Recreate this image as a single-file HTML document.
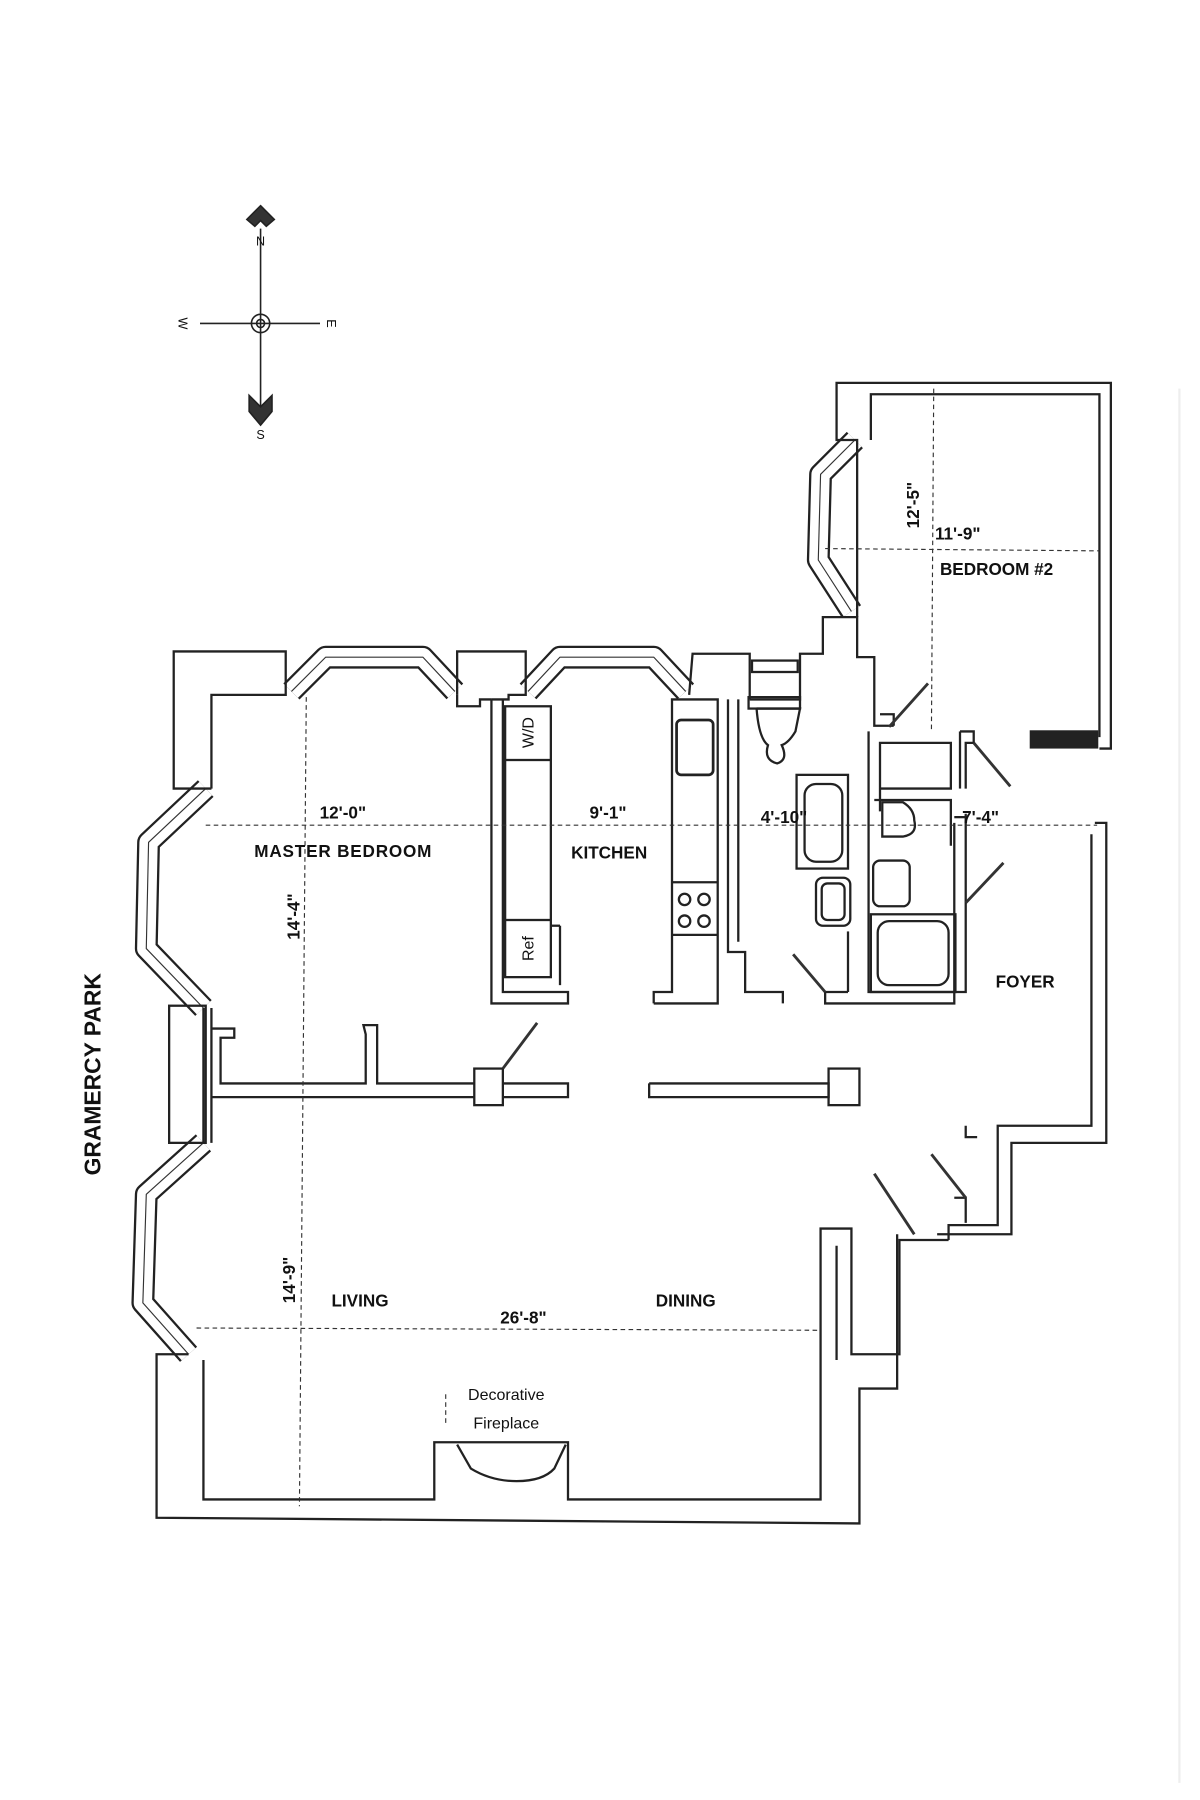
<!DOCTYPE html>
<html><head><meta charset="utf-8"><style>
html,body{margin:0;padding:0;background:#fff;}
svg{display:block;}
text{font-family:"Liberation Sans",sans-serif;fill:#111;}
.b{font-weight:bold;font-size:15px;}
</style></head><body>
<svg width="1200" height="1800" viewBox="0 0 1050 1575" preserveAspectRatio="none" xmlns="http://www.w3.org/2000/svg">
<rect width="1050" height="1575" fill="#fff"/>
<g stroke="#222" stroke-width="1.4" fill="none" stroke-linejoin="miter">
<!-- compass -->
<line x1="228" y1="200" x2="228" y2="365"/>
<line x1="175" y1="283" x2="280" y2="283"/>
<circle cx="228" cy="283" r="8"/><circle cx="228" cy="283" r="3.5"/>
<polygon points="228,180 240,192 233,198 228,193 223,198 216,192" fill="#333"/>
<polygon points="228,372 218,360 218,346 228,356 238,346 238,360" fill="#333"/>
</g>
<text x="228" y="215" font-size="11" text-anchor="middle">N</text>
<text x="228" y="384" font-size="11" text-anchor="middle">S</text>
<text x="160" y="287" font-size="11" text-anchor="middle" transform="rotate(90 160 283)">W</text>
<text x="290" y="287" font-size="11" text-anchor="middle" transform="rotate(90 290 283)">E</text>

<!-- windows -->
<g fill="none" stroke-linejoin="round">
<g stroke="#222" stroke-width="20">
<polyline points="180,690 130,737 128,830 178,882"/>
<polyline points="255,605 285,575 370,575 398,605"/>
<polyline points="462,605 490,575 572,575 600,605"/>
<polyline points="178,1000 128,1045 125,1140 165,1185"/>
<polyline points="748,385 718,415 716,490 745,535"/>
</g>
<g stroke="#fff" stroke-width="16">
<polyline points="180,690 130,737 128,830 178,882"/>
<polyline points="255,605 285,575 370,575 398,605"/>
<polyline points="462,605 490,575 572,575 600,605"/>
<polyline points="178,1000 128,1045 125,1140 165,1185"/>
<polyline points="748,385 718,415 716,490 745,535"/>
</g>
<g stroke="#333" stroke-width="1">
<polyline points="180,690 130,737 128,830 178,882"/>
<polyline points="255,605 285,575 370,575 398,605"/>
<polyline points="462,605 490,575 572,575 600,605"/>
<polyline points="178,1000 128,1045 125,1140 165,1185"/>
<polyline points="748,385 718,415 716,490 745,535"/>
</g>
</g>

<g stroke="#222" stroke-width="2" fill="none" stroke-linejoin="miter">
<!-- master bedroom top-left block -->
<polyline points="185,690 152,690 152,570 250,570 250,608 185,608 185,690"/>
<!-- master/kitchen pier -->
<polyline points="400,608 400,570 460,570 460,608 445,608 445,612 430,612"/>
<polyline points="400,608 400,618 420,618 420,612 430,612"/>
<!-- kitchen to bath pier -->
<polyline points="603,608 606,572 656,572 656,612"/>
<!-- left pier between bays -->
<rect x="148" y="880" width="32" height="120"/>
<!-- bottom-left living -->
<polyline points="165,1185 137,1185 137,1328 752,1333 752,1215 785,1215 785,1080"/>
<polyline points="178,1190 178,1312 380,1312 380,1262 497,1262 497,1312 718,1312 718,1190"/>
<path d="M400,1264 L412,1285 Q430,1296 452,1296 Q475,1296 485,1285 L495,1264"/>
<!-- right dining walls -->
<polyline points="718,1190 718,1075 745,1075 745,1185 787,1185 787,1085 830,1085"/>
<polyline points="732,1190 732,1090"/>
<polyline points="820,1080 885,1080 885,1000 968,1000 968,720 958,720"/>
<polyline points="830,1085 830,1072 873,1072 873,985 955,985 955,730"/>
<polyline points="835,1048 845,1048 845,1070"/>
<polyline points="845,985 845,995 855,995"/>
<!-- master/living divider -->
<polyline points="185,900 205,900 205,908 193,908 193,948 320,948 320,905 318,897 330,897 330,948 415,948"/>
<polyline points="185,960 415,960"/>
<rect x="415" y="935" width="25" height="32"/>
<polyline points="440,948 497,948 497,960 440,960"/>
<polyline points="568,948 725,948 725,960 568,960 568,948"/>
<rect x="725" y="935" width="27" height="32"/>
<line x1="178" y1="882" x2="178" y2="1000"/>
<line x1="185" y1="882" x2="185" y2="1000"/>
<!-- kitchen left wall -->
<polyline points="430,612 430,878 497,878 497,868 440,868 440,612"/>
<rect x="442" y="618" width="40" height="47"/>
<line x1="442" y1="665" x2="442" y2="805"/>
<line x1="482" y1="665" x2="482" y2="805"/>
<rect x="442" y="805" width="40" height="50"/>
<line x1="482" y1="810" x2="490" y2="810"/><line x1="490" y1="810" x2="490" y2="862"/>
<!-- kitchen right counter -->
<polyline points="572,878 628,878 628,612 588,612 588,868 572,868 572,878"/>
<rect x="592" y="630" width="32" height="48" rx="4" stroke-width="2.4"/>
<line x1="588" y1="772" x2="628" y2="772"/><line x1="588" y1="818" x2="628" y2="818"/>
<circle cx="599" cy="787" r="5"/><circle cx="616" cy="787" r="5"/>
<circle cx="599" cy="806" r="5"/><circle cx="616" cy="806" r="5"/>
<!-- hall wall -->
<polyline points="637,612 637,833 652,833 652,868 685,868 685,878"/>
<polyline points="646,612 646,824"/>
<!-- bath 1 -->
<polyline points="656,612 700,612 700,572 720,572 720,540 750,540 750,575 765,575 765,635 782,635"/>
<rect x="658" y="578" width="40" height="10"/>
<rect x="655" y="610" width="45" height="10"/>
<path d="M662,620 L700,620 L696,640 Q690,650 684,652 Q690,665 680,668 Q668,665 672,652 Q664,646 662,620"/>
<rect x="697" y="678" width="45" height="82"/>
<rect x="704" y="686" width="33" height="68" rx="10"/>
<rect x="714" y="768" width="30" height="42" rx="6"/>
<rect x="719" y="773" width="20" height="32" rx="5"/>
<line x1="742" y1="815" x2="742" y2="868"/>
<line x1="722" y1="868" x2="742" y2="868"/>
<polyline points="722,868 722,878 835,878 835,720"/>
<polyline points="760,640 760,868 845,868 845,712"/>
<!-- bath 2 -->
<polyline points="770,710 770,650 832,650 832,690 770,690"/>
<polyline points="765,700 832,700 832,740"/>
<path d="M772,702 L790,702 Q800,708 800,718 Q803,730 790,732 L772,732 Z"/>
<rect x="764" y="753" width="32" height="40" rx="6"/>
<rect x="762" y="800" width="74" height="68"/>
<rect x="768" y="806" width="62" height="56" rx="10"/>
<!-- bedroom 2 -->
<polyline points="750,540 750,385 732,385 732,335 972,335 972,655 962,655"/>
<polyline points="762,385 762,345 962,345 962,645"/>
<rect x="902" y="640" width="58" height="14" fill="#222"/>
<polyline points="782,635 782,625 770,625"/>
<polyline points="835,715 845,715"/>
<polyline points="840,640 852,640 852,650 845,650 845,690"/>
<polyline points="840,640 840,690"/>
</g>
<!-- doors -->
<g stroke="#333" stroke-width="2.5">
<line x1="440" y1="935" x2="470" y2="895"/>
<line x1="778" y1="636" x2="812" y2="598"/>
<line x1="852" y1="650" x2="884" y2="688"/>
<line x1="845" y1="790" x2="878" y2="755"/>
<line x1="694" y1="835" x2="722" y2="868"/>
<line x1="800" y1="1080" x2="765" y2="1027"/>
<line x1="845" y1="1048" x2="815" y2="1010"/>
</g>
<!-- dimension lines -->
<g stroke="#333" stroke-width="1" stroke-dasharray="4,3" fill="none">
<line x1="180" y1="722" x2="960" y2="722"/>
<line x1="268" y1="610" x2="262" y2="1318"/>
<line x1="172" y1="1162" x2="718" y2="1164"/>
<line x1="817" y1="340" x2="815" y2="640"/>
<line x1="722" y1="480" x2="962" y2="482"/>
<line x1="390" y1="1220" x2="390" y2="1248"/>
</g>
<text class="b" x="300" y="716" font-size="12" text-anchor="middle">12'-0"</text>
<text class="b" x="532" y="716" font-size="12" text-anchor="middle">9'-1"</text>
<text class="b" x="686" y="720" font-size="12" text-anchor="middle">4'-10"</text>
<text class="b" x="858" y="720" font-size="12" text-anchor="middle">7'-4"</text>
<text class="b" x="838" y="472" font-size="12" text-anchor="middle">11'-9"</text>
<text class="b" font-size="12" text-anchor="middle" transform="translate(804,442) rotate(-90)">12'-5"</text>
<text class="b" font-size="12" text-anchor="middle" transform="translate(262,802) rotate(-90)">14'-4"</text>
<text class="b" font-size="12" text-anchor="middle" transform="translate(258,1120) rotate(-90)">14'-9"</text>
<text class="b" x="458" y="1158" font-size="12" text-anchor="middle">26'-8"</text>
<text font-size="14" text-anchor="middle" transform="translate(467,641) rotate(-90)">W/D</text>
<text font-size="14" text-anchor="middle" transform="translate(467,830) rotate(-90)">Ref</text>

<text class="b" x="300" y="750" text-anchor="middle" textLength="155">MASTER BEDROOM</text>
<text class="b" x="533" y="751" text-anchor="middle">KITCHEN</text>
<text class="b" x="872" y="503" text-anchor="middle">BEDROOM #2</text>
<text class="b" x="897" y="864" text-anchor="middle">FOYER</text>
<text class="b" x="315" y="1143" text-anchor="middle">LIVING</text>
<text class="b" x="600" y="1143" text-anchor="middle">DINING</text>
<text x="443" y="1225" font-size="14" text-anchor="middle">Decorative</text>
<text x="443" y="1250" font-size="14" text-anchor="middle">Fireplace</text>
<text font-size="20" font-weight="bold" text-anchor="middle" transform="translate(88,940) rotate(-90)">GRAMERCY PARK</text>
<line x1="1032" y1="340" x2="1032" y2="1560" stroke="#eee" stroke-width="2"/>
</svg>
</body></html>
